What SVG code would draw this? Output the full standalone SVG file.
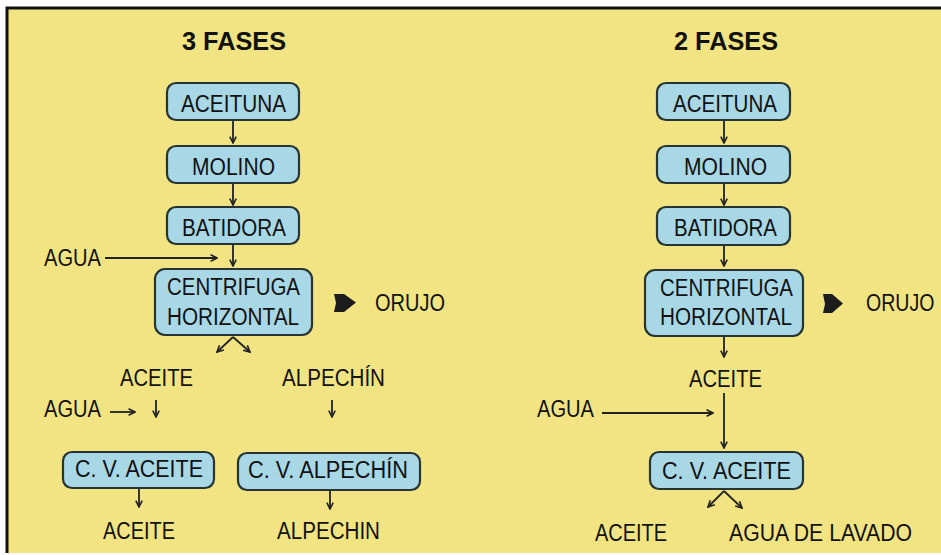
<svg xmlns="http://www.w3.org/2000/svg" width="941" height="555" viewBox="0 0 941 555">
<style>
text{font-family:"Liberation Sans",Arial,sans-serif;font-size:23px;fill:#111;}
.t{font-weight:bold;font-size:25px;}
.box{fill:#a8d7e6;stroke:#263534;stroke-width:2.2;}
.ln{fill:none;stroke:#222;stroke-width:1.8;}
.blk{fill:#1c1c1c;}
</style>
<defs>
<marker id="ah" viewBox="0 0 10 10" refX="9" refY="5" markerWidth="8" markerHeight="8" markerUnits="userSpaceOnUse" orient="auto">
<polyline points="1,1 9,5 1,9" fill="none" stroke="#222" stroke-width="2"/>
</marker>
</defs>
<rect x="0" y="0" width="941" height="555" fill="#ffffff"/>
<rect x="7" y="8" width="934" height="545" fill="#f2e483"/>
<path d="M7 553 V8 H941" fill="none" stroke="#111" stroke-width="3"/>

<text class="t" x="182" y="50" textLength="104" lengthAdjust="spacingAndGlyphs">3 FASES</text>
<text class="t" x="674" y="50" textLength="104" lengthAdjust="spacingAndGlyphs">2 FASES</text>

<g id="l-aceituna"><rect class="box" x="167" y="83" width="132" height="37" rx="9"/><text x="181" y="112" textLength="105" lengthAdjust="spacingAndGlyphs">ACEITUNA</text></g>
<g id="l-molino"><rect class="box" x="167" y="146" width="132" height="37" rx="9"/><text x="192" y="175" textLength="83" lengthAdjust="spacingAndGlyphs">MOLINO</text></g>
<g id="l-batidora"><rect class="box" x="167" y="207" width="132" height="37" rx="9"/><text x="182" y="236" textLength="104" lengthAdjust="spacingAndGlyphs">BATIDORA</text></g>
<g id="l-agua1"><text x="44" y="266" textLength="57" lengthAdjust="spacingAndGlyphs">AGUA</text></g>
<g id="l-centrifuga"><rect class="box" x="155" y="269" width="157" height="66" rx="10"/><text x="167" y="295" textLength="133" lengthAdjust="spacingAndGlyphs">CENTRIFUGA</text><text x="167" y="325" textLength="132" lengthAdjust="spacingAndGlyphs">HORIZONTAL</text></g>
<g id="l-orujo"><text x="375" y="311" textLength="70" lengthAdjust="spacingAndGlyphs">ORUJO</text></g>
<g id="l-aceite1"><text x="120" y="386" textLength="73" lengthAdjust="spacingAndGlyphs">ACEITE</text></g>
<g id="l-alpechin1"><text x="282" y="386" textLength="103" lengthAdjust="spacingAndGlyphs">ALPECHÍN</text></g>
<g id="l-agua2"><text x="44" y="417" textLength="57" lengthAdjust="spacingAndGlyphs">AGUA</text></g>
<g id="l-cvaceite"><rect class="box" x="63" y="452" width="151" height="36" rx="9"/><text x="75" y="477" textLength="128" lengthAdjust="spacingAndGlyphs">C. V. ACEITE</text></g>
<g id="l-cvalpechin"><rect class="box" x="238" y="453" width="182" height="37" rx="9"/><text x="248" y="478" textLength="160" lengthAdjust="spacingAndGlyphs">C. V. ALPECHÍN</text></g>
<g id="l-aceite2"><text x="103" y="539" textLength="72" lengthAdjust="spacingAndGlyphs">ACEITE</text></g>
<g id="l-alpechin2"><text x="277" y="539" textLength="103" lengthAdjust="spacingAndGlyphs">ALPECHIN</text></g>

<g id="r-aceituna"><rect class="box" x="657" y="83" width="133" height="37" rx="9"/><text x="673" y="112" textLength="104" lengthAdjust="spacingAndGlyphs">ACEITUNA</text></g>
<g id="r-molino"><rect class="box" x="657" y="146" width="133" height="37" rx="9"/><text x="684" y="175" textLength="83" lengthAdjust="spacingAndGlyphs">MOLINO</text></g>
<g id="r-batidora"><rect class="box" x="657" y="207" width="133" height="38" rx="9"/><text x="674" y="236" textLength="103" lengthAdjust="spacingAndGlyphs">BATIDORA</text></g>
<g id="r-centrifuga"><rect class="box" x="645" y="270" width="158" height="66" rx="10"/><text x="660" y="296" textLength="133" lengthAdjust="spacingAndGlyphs">CENTRIFUGA</text><text x="660" y="325" textLength="132" lengthAdjust="spacingAndGlyphs">HORIZONTAL</text></g>
<g id="r-orujo"><text transform="translate(866 311) scale(0.85 1)">ORUJO</text></g>
<g id="r-aceite1"><text x="689" y="387" textLength="73" lengthAdjust="spacingAndGlyphs">ACEITE</text></g>
<g id="r-agua"><text x="537" y="417" textLength="57" lengthAdjust="spacingAndGlyphs">AGUA</text></g>
<g id="r-cvaceite"><rect class="box" x="650" y="452" width="153" height="37" rx="9"/><text x="662" y="479" textLength="129" lengthAdjust="spacingAndGlyphs">C. V. ACEITE</text></g>
<g id="r-aceite2"><text x="595" y="541" textLength="72" lengthAdjust="spacingAndGlyphs">ACEITE</text></g>
<g id="r-aguadelavado"><text x="729" y="541" textLength="183" lengthAdjust="spacingAndGlyphs">AGUA DE LAVADO</text></g>

<g id="connectors">
<path class="ln" marker-end="url(#ah)" d="M233 121 V143"/>
<path class="ln" marker-end="url(#ah)" d="M233 184 V205"/>
<path class="ln" marker-end="url(#ah)" d="M233 245 V266"/>
<path class="ln" marker-end="url(#ah)" d="M105 258 H217"/>
<path class="blk" d="M334 294 H344 L356 302.5 L344 312 H334 L336 303 Z"/>
<path class="ln" marker-end="url(#ah)" d="M233 337 L217 352"/>
<path class="ln" marker-end="url(#ah)" d="M233 337 L250 352"/>
<path class="ln" marker-end="url(#ah)" d="M110 412 H135"/>
<path class="ln" marker-end="url(#ah)" d="M156 400 V417"/>
<path class="ln" marker-end="url(#ah)" d="M332 400 V417"/>
<path class="ln" marker-end="url(#ah)" d="M139 489 V507"/>
<path class="ln" marker-end="url(#ah)" d="M330 491 V509"/>

<path class="ln" marker-end="url(#ah)" d="M724 121 V143"/>
<path class="ln" marker-end="url(#ah)" d="M724 184 V205"/>
<path class="ln" marker-end="url(#ah)" d="M724 246 V266"/>
<path class="blk" d="M823 294 H832 L843 303.5 L832 313 H823 L825 304 Z"/>
<path class="ln" marker-end="url(#ah)" d="M724 337 V357"/>
<path class="ln" marker-end="url(#ah)" d="M724 393 V448"/>
<path class="ln" marker-end="url(#ah)" d="M602 413 H713"/>
<path class="ln" marker-end="url(#ah)" d="M724 491 L708 507"/>
<path class="ln" marker-end="url(#ah)" d="M724 491 L742 508"/>
</g>
</svg>
